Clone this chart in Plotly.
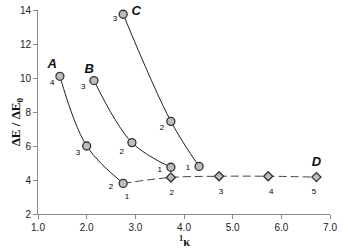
import plotly.graph_objects as go

# Series data (x = 1κ, y = ΔE/ΔE0)
a_x = [1.45, 2.0, 2.75]
a_y = [10.1, 6.0, 3.8]
b_x = [2.15, 2.93, 3.73]
b_y = [9.85, 6.2, 4.75]
c_x = [2.75, 3.73, 4.31]
c_y = [13.75, 7.45, 4.8]
d_x = [2.75, 3.73, 4.72, 5.73, 6.72]
d_y = [3.8, 4.15, 4.22, 4.22, 4.17]

x_ticks = [1.0, 2.0, 3.0, 4.0, 5.0, 6.0, 7.0]
y_ticks = [2, 4, 6, 8, 10, 12, 14]

# point labels (text, x, y)
num_text = ["4", "3", "2", "3", "2", "1", "3", "2", "1", "1", "2", "3", "4", "5"]
num_x = [1.29, 1.82, 2.5, 1.93, 2.72, 3.5, 2.58, 3.55, 4.08, 2.83, 3.75, 4.76, 5.79, 6.67]
num_y = [9.7, 5.6, 3.6, 9.5, 5.65, 4.6, 13.5, 7.06, 4.7, 3.0, 3.25, 3.3, 3.3, 3.3]

letter_text = ["A", "B", "C", "D"]
letter_x = [1.29, 2.05, 3.02, 6.72]
letter_y = [10.8, 10.5, 13.9, 5.0]

fig = go.Figure()

line_col = "#222222"
mk = dict(symbol="circle", size=8, color="#bdbdbd", line=dict(color="#333333", width=1.3))

fig.add_trace(go.Scatter(x=d_x, y=d_y, mode="lines", line=dict(color="#444444", width=1, dash="8px,4px", shape="spline"),
                         showlegend=False, hoverinfo="skip", cliponaxis=False))
fig.add_trace(go.Scatter(x=d_x[1:], y=d_y[1:], mode="markers",
                         marker=dict(symbol="diamond", size=7, color="#bdbdbd", line=dict(color="#333333", width=1.3)),
                         showlegend=False, cliponaxis=False))
for xs, ys in [(a_x, a_y), (b_x, b_y), (c_x, c_y)]:
    fig.add_trace(go.Scatter(x=xs, y=ys, mode="lines+markers",
                             line=dict(color=line_col, width=1, shape="spline", smoothing=1.0),
                             marker=mk, showlegend=False, cliponaxis=False))

fig.add_trace(go.Scatter(x=num_x, y=num_y, mode="text", text=num_text,
                         textfont=dict(family="Liberation Sans, Arial", size=8, color="#000000"),
                         showlegend=False, hoverinfo="skip", cliponaxis=False))
fig.add_trace(go.Scatter(x=letter_x, y=letter_y, mode="text", text=["<b><i>%s</i></b>" % t for t in letter_text],
                         textfont=dict(family="Liberation Sans, Arial", size=13, color="#111111"),
                         showlegend=False, hoverinfo="skip", cliponaxis=False))

axis_common = dict(showgrid=False, zeroline=False, showline=True, linecolor="#888888", linewidth=1,
                   ticks="outside", ticklen=4, tickcolor="#888888", automargin=False,
                   tickfont=dict(family="Liberation Sans, Arial", size=10, color="#222222"))

fig.update_layout(
    width=344, height=248,
    margin=dict(l=38, r=14, t=10, b=34),
    plot_bgcolor="white", paper_bgcolor="white",
    xaxis=dict(range=[1.0, 7.0], tickvals=x_ticks, ticktext=["%.1f" % v for v in x_ticks], **axis_common),
    yaxis=dict(range=[2, 14], tickvals=y_ticks, **axis_common),
    annotations=[
        dict(text="<b><sup>1</sup>κ</b>", xref="x", yref="paper", x=4.0, y=-0.09, yanchor="top",
             showarrow=False, font=dict(family="Liberation Serif, Times New Roman", size=12, color="#111111")),
        dict(text="<b>ΔE / ΔE<sub>0</sub></b>", xref="paper", yref="y", x=-0.075, y=7.4, textangle=-90,
             xanchor="center", showarrow=False,
             font=dict(family="Liberation Serif, Times New Roman", size=13, color="#111111")),
    ],
)

fig.write_html("out.html", config={"displayModeBar": False},
               post_script="document.body.style.margin='0';document.body.style.padding='0';")
